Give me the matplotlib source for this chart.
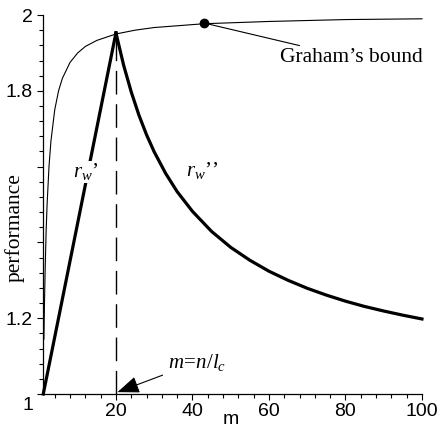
import matplotlib
matplotlib.use("Agg")
import matplotlib.pyplot as plt
import matplotlib.ticker as ticker

plt.rcParams["mathtext.fontset"] = "custom"
plt.rcParams["mathtext.rm"] = "Liberation Serif"
plt.rcParams["mathtext.it"] = "Liberation Serif:italic"

# Graham's bound, thin curve
graham_m = [1.17, 1.3, 1.5, 1.75, 2, 2.5, 3, 4, 5, 6, 8, 10, 12, 15, 20, 25, 30, 43, 60, 80, 100]
graham_v = [1.145, 1.23, 1.33, 1.43, 1.5, 1.6, 1.667, 1.75, 1.8, 1.833, 1.875, 1.9, 1.917,
            1.933, 1.95, 1.96, 1.967, 1.977, 1.983, 1.988, 1.99]

# r_w' (rising) and r_w'' (falling)
rw1_m = [1, 20]
rw1_v = [1.0, 1.953]
rw2_m = [20, 22, 24, 26, 28, 30, 33, 36, 40, 45, 50, 55, 60, 65, 70, 75, 80, 85, 90, 95, 100]
rw2_v = [1.953, 1.868, 1.797, 1.736, 1.684, 1.639, 1.582, 1.534, 1.482, 1.429, 1.387, 1.353,
         1.324, 1.300, 1.279, 1.261, 1.245, 1.231, 1.219, 1.208, 1.198]

peak_m = 20
peak_v = 1.953
dot_m, dot_v = 43, 1.979

xticks = [20, 40, 60, 80, 100]
yticks = [1, 1.2, 1.4, 1.6, 1.8, 2]
ylabels = ["", "1.2", "", "", "1.8", "2"]

fig = plt.figure(figsize=(4.37, 4.28), dpi=100)
ax = fig.add_axes([0.099, 0.0794, 0.8666, 0.8855])

ax.plot(graham_m, graham_v, color="black", lw=0.8, clip_on=False)
ax.plot(rw1_m, rw1_v, color="black", lw=2.3, clip_on=False)
ax.plot(rw2_m, rw2_v, color="black", lw=2.3, clip_on=False)
ax.plot([peak_m, peak_m], [1, peak_v], color="black", lw=1.0, dashes=(17, 7))
ax.plot([dot_m], [dot_v], "o", color="black", markersize=6, zorder=5)

ax.set_xlim(1, 100)
ax.set_ylim(1, 2)
for s in ["top", "right"]:
    ax.spines[s].set_visible(False)
for s in ["left", "bottom"]:
    ax.spines[s].set_linewidth(0.9)

ax.set_xticks(xticks)
ax.xaxis.set_minor_locator(ticker.MultipleLocator(4))
ax.set_yticks(yticks)
ax.set_yticklabels(ylabels)
ax.yaxis.set_minor_locator(ticker.MultipleLocator(0.04))
ax.tick_params(which="major", direction="out", length=4.5, width=0.8, labelsize=14)
ax.tick_params(which="minor", direction="out", length=2.8, width=0.8)
ax.tick_params(axis="x", pad=2)
ax.tick_params(axis="y", pad=3)
for lab in ax.get_xticklabels() + ax.get_yticklabels():
    lab.set_fontfamily("Liberation Sans")

ax.annotate("1", xy=(1, 1), xytext=(-11, -8), textcoords="offset points",
            ha="center", va="center", fontsize=14, family="Liberation Sans")
ax.annotate("m", xy=(50, 1), xytext=(0, -21.5), textcoords="offset points",
            ha="center", va="baseline", fontsize=14, family="Liberation Sans")

ax.set_ylabel("performance", fontsize=15.5, family="Liberation Serif")
ax.yaxis.set_label_coords(-0.05, 0.44)

ax.annotate("Graham\u2019s bound", xy=(dot_m, dot_v), xytext=(62.9, 1.887),
            ha="left", va="center", fontsize=15.5, family="Liberation Serif",
            arrowprops=dict(arrowstyle="-", lw=0.8, color="black", shrinkA=0, shrinkB=0))

ax.annotate(r"$m\!=\!n/l_c$", xy=(20.4, 1.005), xytext=(33.6, 1.084),
            ha="left", va="center", fontsize=15,
            arrowprops=dict(arrowstyle="-|>,head_length=0.9,head_width=0.35",
                            mutation_scale=15, lw=0.8, color="black",
                            shrinkA=2, shrinkB=0))

ax.text(8.8, 1.586, "$r_w$\u2019", fontsize=15, family="Liberation Serif",
        ha="left", va="center", zorder=6,
        bbox=dict(facecolor="white", edgecolor="none", pad=0.5))
ax.text(38.2, 1.59, "$r_w$\u2019\u2019", fontsize=15, family="Liberation Serif",
        ha="left", va="center")

fig.savefig("out.png", dpi=100)
